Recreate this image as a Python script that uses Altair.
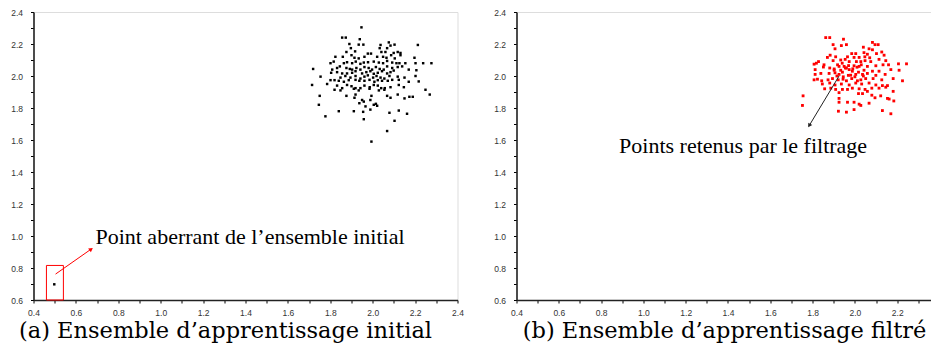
import altair as alt
import pandas as pd

# ---------------- data ----------------
tick_values = [0.4, 0.5, 0.6, 0.7, 0.8, 0.9, 1.0, 1.1, 1.2, 1.3, 1.4, 1.5, 1.6, 1.7,
               1.8, 1.9, 2.0, 2.1, 2.2, 2.3, 2.4]

# (a) initial training set (black points), outlier included last
left_x = [1.947, 1.856, 1.873, 1.939, 1.890, 1.934, 1.956, 2.037, 2.076, 2.084, 2.103, 2.213,
          1.897, 2.033, 2.068, 1.876, 1.917, 1.977, 1.992, 2.041, 2.060, 2.099, 2.118, 2.131,
          1.824, 1.859, 1.900, 1.914, 1.934, 1.961, 2.021, 2.049, 2.065, 2.087, 2.104, 2.131, 2.197,
          1.801, 1.816, 1.845, 1.864, 1.879, 1.903, 1.920, 1.942, 1.958, 1.978, 2.005, 2.029,
          2.049, 2.068, 2.092, 2.112, 2.126, 2.154, 2.202, 2.238, 2.277,
          1.719, 1.809, 1.832, 1.876, 1.892, 1.903, 1.923, 1.942, 1.961, 1.981, 1.997, 2.015,
          2.033, 2.052, 2.068, 2.092, 2.118, 2.139, 2.170, 2.206,
          1.804, 1.832, 1.856, 1.879, 1.903, 1.919, 1.950, 1.970, 1.989, 2.005, 2.024, 2.044,
          2.068, 2.084, 2.099,
          1.754, 1.848, 1.871, 1.895, 1.919, 1.942, 1.961, 1.977, 2.002, 2.018, 2.037, 2.055,
          2.079, 2.118, 2.150, 2.202,
          1.801, 1.820, 1.840, 1.864, 1.887, 1.919, 1.937, 1.961, 1.985, 2.008, 2.024, 2.044,
          2.071, 2.092, 2.123, 2.170, 2.217,
          1.714, 1.785, 1.832, 1.856, 1.879, 1.900, 1.919, 1.942, 1.961, 1.986, 2.005, 2.024,
          2.040, 2.057, 2.084, 2.123, 2.147,
          1.820, 1.848, 1.911, 1.934, 1.985, 2.029, 2.055, 2.249,
          1.750, 1.876, 1.919, 1.994, 2.068, 2.084, 2.118, 2.150, 2.173, 2.189, 2.269, 1.914, 1.950,
          1.746, 1.937, 1.958, 1.989, 2.005, 2.015, 2.021, 1.966, 1.989,
          1.777, 1.840, 1.911, 1.955, 2.079, 2.123, 2.162, 1.958, 2.103, 2.068, 1.994,
          0.498]
left_y = [2.304, 2.240, 2.240, 2.230, 2.200, 2.196, 2.196, 2.194, 2.210, 2.190, 2.196, 2.194,
          2.174, 2.174, 2.174, 2.150, 2.154, 2.140, 2.140, 2.150, 2.150, 2.144, 2.150, 2.144,
          2.120, 2.120, 2.130, 2.114, 2.110, 2.120, 2.120, 2.120, 2.114, 2.130, 2.110, 2.130, 2.114,
          2.080, 2.090, 2.060, 2.080, 2.086, 2.080, 2.090, 2.076, 2.084, 2.086, 2.090, 2.084,
          2.080, 2.094, 2.084, 2.080, 2.080, 2.080, 2.080, 2.080, 2.080,
          2.044, 2.040, 2.050, 2.050, 2.044, 2.040, 2.050, 2.040, 2.056, 2.050, 2.040, 2.056,
          2.044, 2.040, 2.060, 2.050, 2.056, 2.060, 2.040, 2.036,
          2.020, 2.024, 2.016, 2.016, 2.020, 2.030, 2.016, 2.024, 2.030, 2.014, 2.020, 2.030,
          2.016, 2.024, 2.034,
          1.996, 1.990, 2.000, 1.990, 2.000, 1.984, 1.996, 2.004, 1.990, 2.000, 1.990, 1.984,
          2.000, 1.996, 1.990, 2.000,
          1.974, 1.974, 1.970, 1.964, 1.974, 1.976, 1.970, 1.970, 1.976, 1.964, 1.974, 1.970,
          1.970, 1.976, 1.976, 1.964, 1.966,
          1.944, 1.950, 1.940, 1.924, 1.944, 1.936, 1.924, 1.924, 1.940, 1.930, 1.944, 1.940,
          1.924, 1.924, 1.930, 1.944, 1.930,
          1.914, 1.910, 1.920, 1.910, 1.920, 1.910, 1.914, 1.914,
          1.876, 1.876, 1.884, 1.876, 1.876, 1.864, 1.884, 1.860, 1.870, 1.870, 1.884, 1.864, 1.850,
          1.820, 1.830, 1.840, 1.850, 1.820, 1.826, 1.814, 1.810, 1.790,
          1.748, 1.780, 1.780, 1.776, 1.770, 1.784, 1.764, 1.730, 1.720, 1.656, 1.590,
          0.698]

# (b) filtered training set (red points)
right_x = [1.862, 1.881, 1.946, 1.897, 1.936, 1.960, 2.083, 2.095, 2.110, 1.906, 2.040, 2.067, 2.083,
           2.004, 1.985, 2.043, 2.059, 2.102, 2.127, 1.883, 1.870, 1.909, 1.965, 1.996, 2.020,
           2.047, 2.070, 2.138, 1.828, 1.818, 1.807, 1.854, 1.897, 1.933, 1.954, 1.973, 2.007,
           2.028, 2.048, 2.075, 2.114, 2.146, 1.851, 1.881, 1.902, 1.925, 1.949, 1.960, 1.996,
           2.020, 2.059, 2.099, 2.133, 2.159, 2.206, 2.244, 1.812, 1.902, 1.933, 1.941, 1.973,
           1.988, 2.017, 2.043, 2.083, 2.114, 2.170, 2.209, 1.812, 1.839, 1.878, 1.906, 1.925,
           1.969, 2.004, 2.036, 2.059, 2.099, 2.143, 1.823, 1.843, 1.873, 1.894, 1.921, 1.944,
           1.960, 1.985, 2.012, 2.028, 2.051, 2.086, 2.127, 2.181, 2.225, 1.807, 1.846, 1.881,
           1.906, 1.936, 1.973, 2.004, 2.032, 2.067, 2.099, 2.130, 2.154, 1.857, 1.886, 1.909,
           1.941, 1.965, 1.988, 2.020, 2.048, 2.080, 2.114, 2.146, 2.181, 1.925, 2.017, 2.036,
           2.059, 2.080, 2.095, 2.122, 2.154, 2.162, 2.184, 1.755, 1.925, 1.752, 1.925, 1.965,
           1.996, 2.020, 2.028, 2.067, 1.996, 1.922, 1.960, 2.130, 2.170,
           1.918, 1.940, 1.955, 1.970, 1.990, 2.010, 2.030, 1.915, 1.945, 1.980, 2.000, 2.040]
right_y = [2.240, 2.240, 2.230, 2.196, 2.190, 2.196, 2.210, 2.196, 2.196, 2.170, 2.180, 2.170, 2.164,
           2.140, 2.140, 2.146, 2.136, 2.140, 2.150, 2.130, 2.116, 2.120, 2.120, 2.116, 2.116,
           2.120, 2.114, 2.130, 2.090, 2.080, 2.074, 2.070, 2.096, 2.100, 2.104, 2.090, 2.090,
           2.090, 2.096, 2.090, 2.104, 2.096, 2.056, 2.050, 2.044, 2.060, 2.060, 2.050, 2.064,
           2.060, 2.060, 2.064, 2.070, 2.070, 2.076, 2.076, 2.040, 2.036, 2.036, 2.024, 2.040,
           2.030, 2.024, 2.036, 2.030, 2.030, 2.040, 2.036, 2.010, 2.016, 2.016, 2.020, 2.010,
           2.004, 2.010, 2.010, 2.016, 2.004, 2.010, 1.980, 1.970, 1.976, 1.984, 1.976, 1.980,
           1.970, 1.984, 1.970, 1.976, 1.984, 1.984, 1.976, 1.984, 1.970, 1.976, 1.950, 1.956,
           1.944, 1.950, 1.944, 1.956, 1.950, 1.956, 1.944, 1.940, 1.940, 1.920, 1.924, 1.916,
           1.916, 1.916, 1.924, 1.920, 1.916, 1.924, 1.924, 1.930, 1.904, 1.896, 1.890, 1.890,
           1.904, 1.880, 1.864, 1.876, 1.860, 1.856, 1.844, 1.876, 1.860, 1.816, 1.836, 1.836,
           1.836, 1.824, 1.816, 1.830, 1.790, 1.780, 1.774, 1.784, 1.764,
           2.070, 2.080, 2.050, 2.065, 2.045, 2.055, 2.070, 2.000, 1.995, 2.005, 1.995, 2.000]

# annotations (a)
box_x = [0.461]; box_x2 = [0.541]; box_y = [0.6]; box_y2 = [0.816]
arrow_a = {"x": [0.504], "y": [0.762], "x2": [0.672], "y2": [0.918]}
text_a = "Point aberrant de l’ensemble initial"
text_a_pos = [0.692, 0.948]
# annotations (b)
arrow_b = {"x": [1.925], "y": [2.0], "x2": [1.784], "y2": [1.690]}
text_b = "Points retenus par le filtrage"
text_b_pos = [0.885, 1.518]

caption_a = "(a)  Ensemble d’apprentissage initial"
caption_b = "(b)  Ensemble d’apprentissage filtré"

# ---------------- chart ----------------
label_expr = "round(datum.value*10) % 2 == 0 ? format(datum.value, '.1f') : ''"


def axis(orient):
    return alt.Axis(values=tick_values, labelExpr=label_expr, title=None, grid=False,
                    tickSize=3, tickColor="black", tickWidth=1,
                    domainColor="#222", domainWidth=1.6,
                    labelFont="Liberation Sans", labelFontSize=8.5, labelColor="#333",
                    labelPadding=8 if orient == "left" else 5,
                    labelFlush=False, labelOverlap=False)


xs = alt.Scale(domain=[0.4, 2.4], nice=False, zero=False)
ys = alt.Scale(domain=[0.6, 2.4], nice=False, zero=False)


def X(field):
    return alt.X(field, scale=xs, axis=axis("bottom"))


def Y(field):
    return alt.Y(field, scale=ys, axis=axis("left"))


def points(xv, yv, color, size):
    df = pd.DataFrame({"x": xv, "y": yv})
    return alt.Chart(df).mark_square(size=size, color=color, opacity=1).encode(
        x=X("x:Q"), y=Y("y:Q"))


def arrow(a, color, angle):
    df = pd.DataFrame(a)
    line = alt.Chart(df).mark_rule(color=color, strokeWidth=1).encode(
        x=X("x:Q"), y=Y("y:Q"), x2="x2:Q", y2="y2:Q")
    head = alt.Chart(df).mark_point(shape="triangle-up", filled=True, size=22, opacity=1,
                                    color=color, angle=angle).encode(x=X("x2:Q"), y=Y("y2:Q"))
    return line + head


def label(txt, pos):
    df = pd.DataFrame({"x": [pos[0]], "y": [pos[1]], "t": [txt]})
    return alt.Chart(df).mark_text(align="left", baseline="alphabetic", font="Liberation Serif",
                                   fontSize=22, color="black").encode(
        x=X("x:Q"), y=Y("y:Q"), text="t:N")


box_df = pd.DataFrame({"x": box_x, "x2": box_x2, "y": box_y, "y2": box_y2})
box = alt.Chart(box_df).mark_rect(fillOpacity=0, stroke="red", strokeWidth=1).encode(
    x=X("x:Q"), x2="x2:Q", y=Y("y:Q"), y2="y2:Q")

title_common = dict(orient="bottom", font="DejaVu Serif", fontSize=22.5, fontWeight="normal",
                    color="black", offset=3, limit=800)

left = alt.layer(
    points(left_x, left_y, "black", 6), box, arrow(arrow_a, "red", 54), label(text_a, text_a_pos)
).properties(width=424, height=288,
             title=alt.TitleParams(caption_a, dx=-20, **title_common))

right = alt.layer(
    points(right_x, right_y, "red", 8), arrow(arrow_b, "#222", 211), label(text_b, text_b_pos)
).properties(width=423, height=288,
             title=alt.TitleParams(caption_b, dx=-3.5, **title_common))

chart = alt.hconcat(left, right, spacing=28).properties(
    padding={"left": 1.5, "top": -1, "right": -16, "bottom": 1}
).configure_view(stroke="black", strokeWidth=1.2).configure(
    background="white"
).configure_axis(labelOverlap=False)

chart.save("out.html", embed_options={"renderer": "svg", "actions": False})
